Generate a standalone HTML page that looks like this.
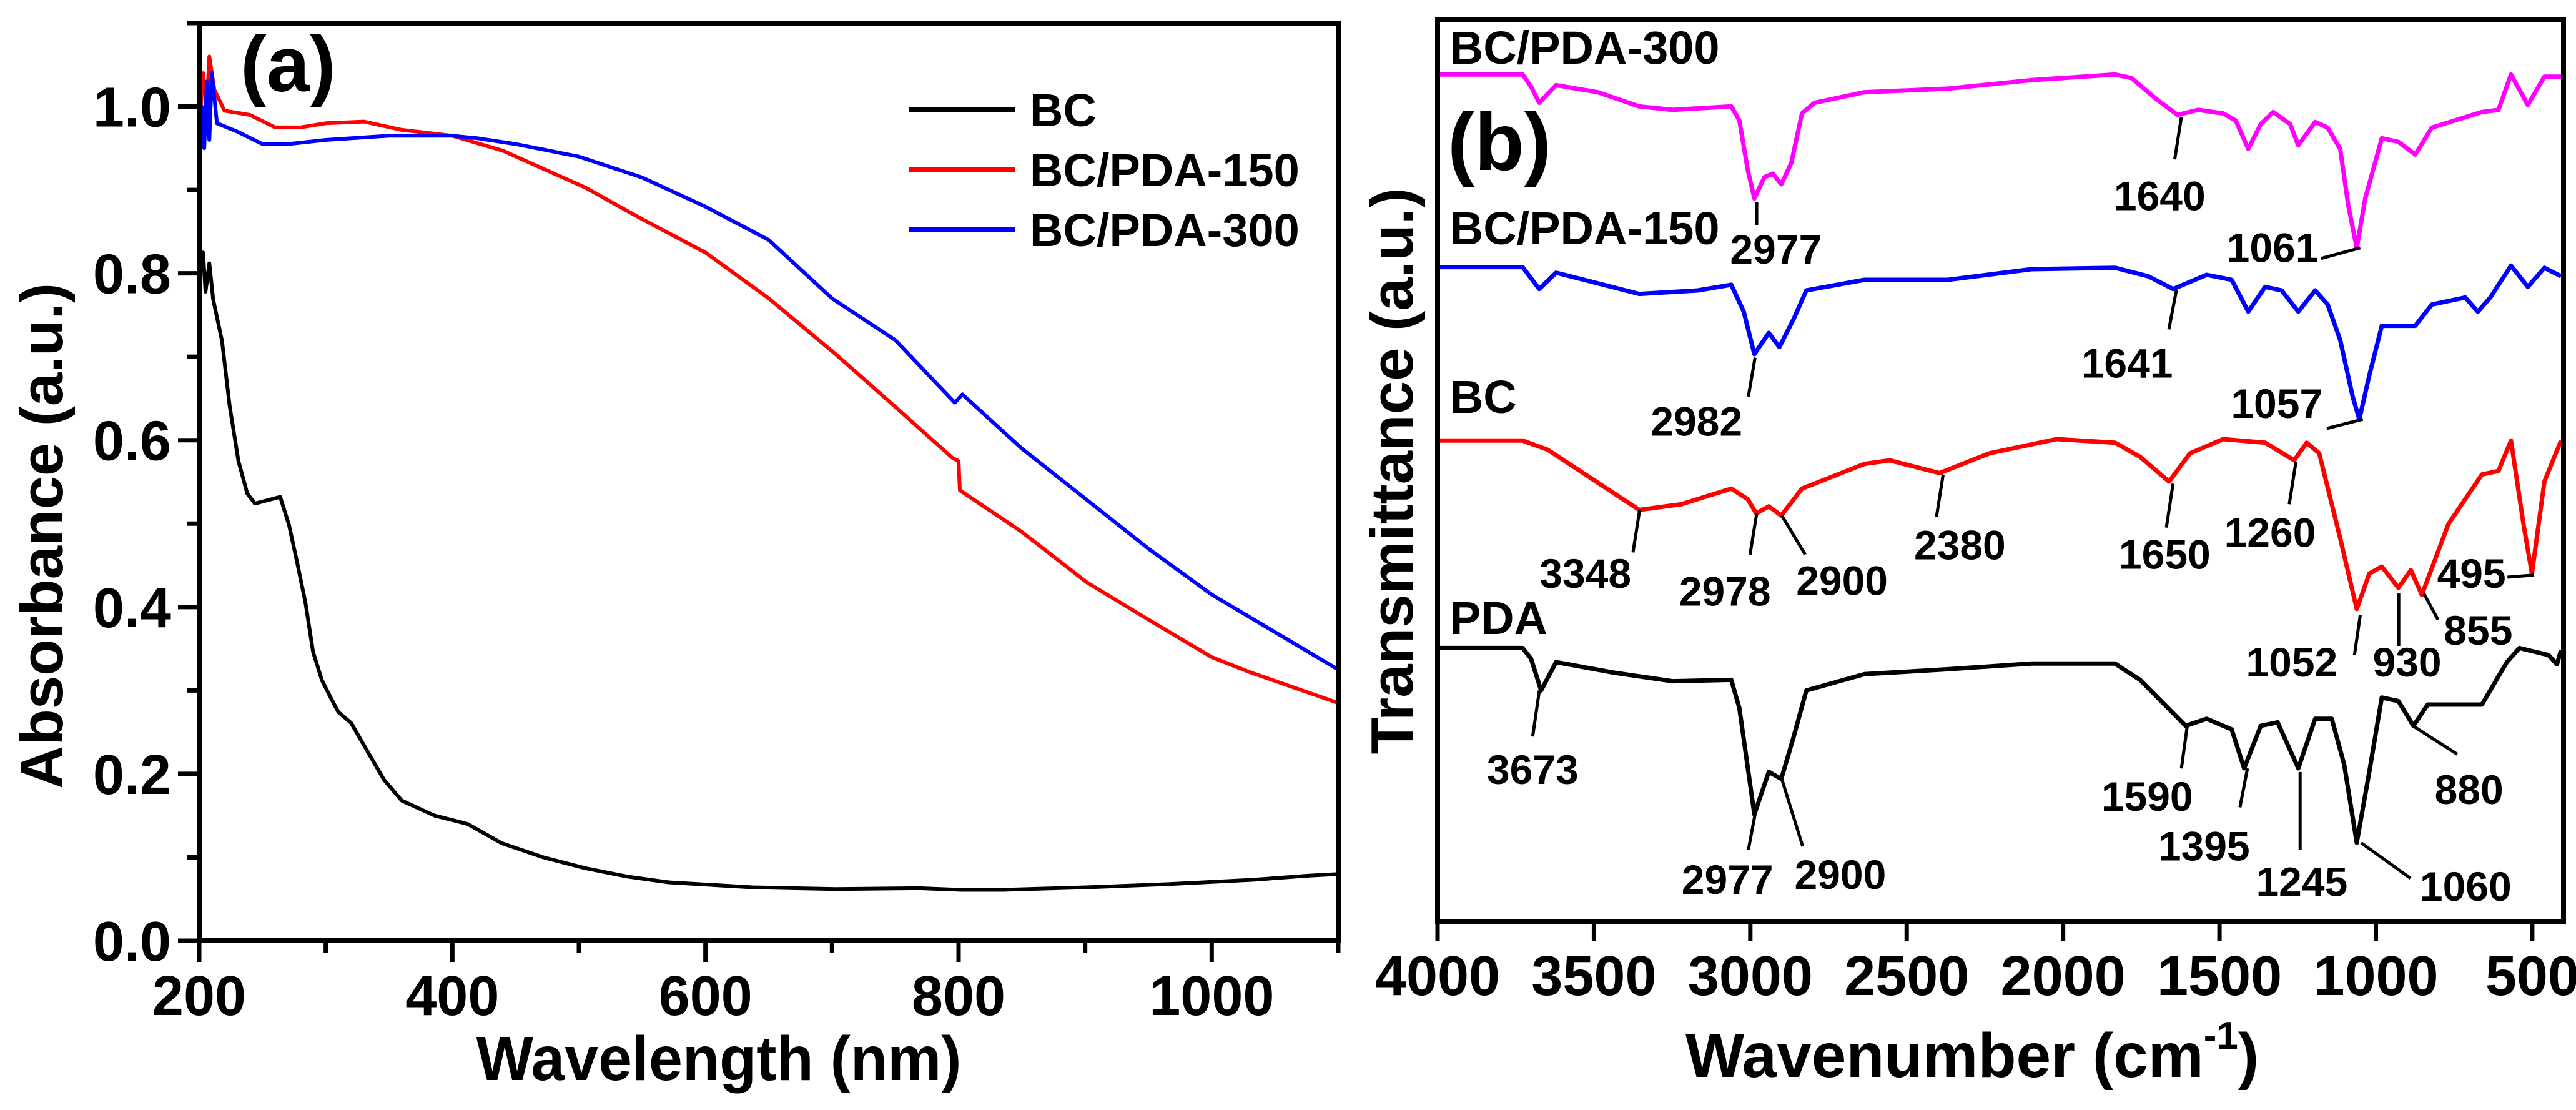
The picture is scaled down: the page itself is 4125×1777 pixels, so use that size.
<!DOCTYPE html>
<html><head><meta charset="utf-8"><style>
html,body{margin:0;padding:0;background:#fff;}
svg{display:block;font-family:"Liberation Sans",Arial,sans-serif;font-weight:bold;}
</style></head><body>
<svg id="c" width="4125" height="1777" viewBox="0 0 4125 1777" xmlns="http://www.w3.org/2000/svg"></svg>
<script>
// ---------- Panel (a) data ----------
const bcWl=[200,203,205,208,211,218,224,231,238,244,254,264,271,277,284,290,297,304,310,320,333,346,360,373,386,412,439,472,505,538,571,637,703,769,802,835,901,967,1032,1077,1100];
const bcAbs=[0.795,0.825,0.778,0.812,0.769,0.719,0.642,0.575,0.536,0.524,0.528,0.532,0.498,0.456,0.405,0.346,0.312,0.291,0.274,0.261,0.227,0.193,0.168,0.159,0.150,0.140,0.117,0.100,0.087,0.077,0.070,0.064,0.062,0.063,0.061,0.061,0.064,0.068,0.073,0.078,0.080];
const p150Wl=[200,203,206,208,212,220,240,260,280,300,330,360,400,440,505,550,600,650,703,750,795,800,801,850,901,950,1000,1030,1100];
const p150Abs=[0.97,1.04,1.0,1.06,1.02,0.995,0.99,0.975,0.975,0.98,0.982,0.972,0.965,0.947,0.903,0.865,0.825,0.77,0.703,0.64,0.579,0.575,0.54,0.49,0.43,0.385,0.34,0.322,0.285];
const p300Wl=[200,202,204,206,208,210,214,230,250,270,300,350,400,420,450,500,550,600,650,700,750,797,803,850,900,950,1000,1050,1100];
const p300Abs=[0.94,1.0,0.95,1.03,0.96,1.04,0.98,0.97,0.955,0.955,0.96,0.965,0.965,0.962,0.955,0.94,0.915,0.88,0.84,0.77,0.72,0.645,0.655,0.59,0.53,0.47,0.415,0.37,0.325];
const aXTicks=[200,400,600,800,1000];
const aYTicks=[0.0,0.2,0.4,0.6,0.8,1.0];
const aYTickLabels=["0.0","0.2","0.4","0.6","0.8","1.0"];
// ---------- Panel (b) data ----------
const wnP300=[4000,3728,3701,3675,3621,3488,3355,3248,3061,3035,3008,2987,2955,2928,2901,2869,2835,2795,2635,2368,2101,1834,1781,1701,1634,1568,1488,1448,1408,1368,1328,1274,1248,1194,1154,1114,1088,1061,1034,981,928,874,821,661,608,568,514,461,408];
const tP300=[119.7,119.7,118,115.7,118.2,117.2,115.2,114.7,115.2,113.2,106.2,102.2,105.2,105.7,104.2,107.2,114.2,115.7,117.2,117.7,118.9,119.7,119.2,116.2,114.0,114.7,114.2,113.2,109.2,112.7,114.4,112.7,109.7,113.0,112.2,109.2,101.2,95.2,102.2,110.7,110.2,108.4,112.2,114.4,114.7,119.7,115.4,119.4,119.4];
const wnP150=[4000,3728,3675,3621,3355,3168,3061,3021,2987,2941,2907,2861,2821,2635,2368,2101,1834,1728,1648,1541,1461,1408,1354,1301,1248,1194,1154,1114,1074,1053,1021,981,928,874,821,714,674,634,568,514,461,408];
const tP150=[92.5,92.5,89.4,91.7,88.7,89.2,90,86.2,80.2,83.2,81.2,85.2,89.2,90.7,90.7,92.2,92.4,91.2,89.4,91.4,90.7,86.2,89.7,89.2,86.2,89.2,87.2,82.2,74.2,71,77.2,84.2,84.2,84.2,87.2,88.2,86.2,88.2,92.7,89.7,92.4,91.2];
const wnBC=[4000,3728,3648,3355,3221,3061,3008,2981,2941,2901,2835,2635,2554,2395,2235,2021,1834,1754,1661,1594,1488,1354,1261,1221,1181,1114,1061,1021,981,928,888,853,768,661,608,568,528,501,461,408];
const tBC=[68,68,66.7,58.2,59,61.2,59.7,57.7,58.7,57.4,61.2,64.7,65.2,63.4,66.2,68.2,67.7,65.7,62.2,66.2,68.2,67.7,65.2,67.7,66.2,54.2,44.2,49.2,50.2,47.2,49.7,46.2,56.2,63.2,63.7,68,56.2,49.2,62.2,68];
const wnPDA=[4000,3728,3701,3669,3621,3435,3248,3061,3035,2987,2941,2901,2861,2821,2635,2368,2101,1834,1754,1608,1541,1461,1421,1368,1314,1248,1194,1141,1101,1061,1021,981,928,880,834,661,581,541,448,421,408];
const tPDA=[38.7,38.7,37.2,32.7,36.7,35.2,34,34.2,30.2,15.2,21.2,20.2,26.2,32.7,35,35.7,36.5,36.5,34.2,27.7,28.7,27.2,21.7,27.7,28.2,21.7,28.7,28.7,22.2,11.2,21.2,31.7,31.2,27.7,30.7,30.7,36.7,38.7,37.7,36.4,38.4];
const bXTicks=[4000,3500,3000,2500,2000,1500,1000,500];

const NS="http://www.w3.org/2000/svg";
const svg=document.getElementById('c');
function mk(tag,attrs,parent){const e=document.createElementNS(NS,tag);for(const k in attrs)e.setAttribute(k,attrs[k]);(parent||svg).appendChild(e);return e;}

// ---------- Panel (a) ----------
const aL=319,aR=2143,aT=37,aB=1506;
const ax=v=>aL+(v-200)/900*(aR-aL);
const ay=v=>aB-v/1.1*(aB-aT);
const ga=mk('g',{});


function series(g,xs,ys,fx,fy,color,w,name){
  const d=xs.map((x,i)=>(i?'L':'M')+fx(x).toFixed(1)+' '+fy(ys[i]).toFixed(1)).join(' ');
  const p=mk('path',{d:d,fill:'none',stroke:color,'stroke-width':w,'stroke-linejoin':'round'},g);
  
  
}
series(ga,bcWl,bcAbs,ax,ay,'#000',6,'bc-line');
series(ga,p150Wl,p150Abs,ax,ay,'#ff0000',6,'bc-pda-150-line');
series(ga,p300Wl,p300Abs,ax,ay,'#0000ff',6,'bc-pda-300-line');
const fa=mk('rect',{x:aL,y:aT,width:aR-aL,height:aB-aT,fill:'none',stroke:'#000','stroke-width':8},ga);


for(let v=200;v<=1100;v+=100){
  const major=aXTicks.includes(v);
  mk('line',{x1:ax(v),x2:ax(v),y1:aB,y2:aB+(major?34:20),stroke:'#000','stroke-width':7},ga);
}
aXTicks.forEach(v=>{
  const t=mk('text',{x:ax(v),y:1625,'text-anchor':'middle','font-size':90},ga);
  t.textContent=v;
  
  
});
for(let i=0;i<=11;i++){
  const v=i/10;const major=i%2===0;
  mk('line',{x1:aL,x2:aL-(major?34:20),y1:ay(v),y2:ay(v),stroke:'#000','stroke-width':7},ga);
}
aYTicks.forEach((v,i)=>{
  const t=mk('text',{x:274,y:ay(v)+32,'text-anchor':'end','font-size':90},ga);
  t.textContent=aYTickLabels[i];
  
  
});
let t=mk('text',{x:1151,y:1729,'text-anchor':'middle','font-size':100,textLength:777,lengthAdjust:'spacingAndGlyphs'},ga);
t.textContent='Wavelength (nm)';


t=mk('text',{x:0,y:0,'text-anchor':'middle','font-size':96,textLength:810,lengthAdjust:'spacingAndGlyphs',transform:'translate(100,858) rotate(-90)'},ga);
t.textContent='Absorbance (a.u.)';


t=mk('text',{x:385,y:146,'font-size':125},ga);
t.textContent='(a)';


const legNames=['BC','BC/PDA-150','BC/PDA-300'];
const legColors=['#000','#ff0000','#0000ff'];
const legY=[176,272,368];
legNames.forEach((n,i)=>{
  const g=mk('g',{},ga);
  
  
  mk('line',{x1:1456,x2:1626,y1:legY[i],y2:legY[i],stroke:legColors[i],'stroke-width':8},g);
  const tt=mk('text',{x:1649,y:legY[i]+26,'font-size':74},g);
  tt.textContent=n;
});

// ---------- Panel (b) ----------
const bL=2302,bR=4105,bT=32,bB=1476;
const bx=v=>bL+(4000-v)/3600*(bR-bL);
const by=v=>bB-v*(bB-bT)/127.4;
const gb=mk('g',{});


series(gb,wnP300,tP300,bx,by,'#ff00ff',7,'bc-pda-300-spectrum');
series(gb,wnP150,tP150,bx,by,'#0000ff',7,'bc-pda-150-spectrum');
series(gb,wnBC,tBC,bx,by,'#ff0000',7,'bc-spectrum');
series(gb,wnPDA,tPDA,bx,by,'#000',7,'pda-spectrum');
const fb=mk('rect',{x:bL,y:bT,width:bR-bL,height:bB-bT,fill:'none',stroke:'#000','stroke-width':8},gb);


bXTicks.forEach(v=>{
  mk('line',{x1:bx(v),x2:bx(v),y1:bB,y2:bB+30,stroke:'#000','stroke-width':7},gb);
  const tt=mk('text',{x:bx(v),y:1593,'text-anchor':'middle','font-size':90},gb);
  tt.textContent=v;
  
  
});
t=mk('text',{x:3158,y:1724,'text-anchor':'middle','font-size':100},gb);
t.innerHTML='Wavenumber (cm<tspan dy="-45" font-size="62">-1</tspan><tspan dy="45">)</tspan>';


t=mk('text',{x:0,y:0,'text-anchor':'middle','font-size':96,textLength:907,lengthAdjust:'spacingAndGlyphs',transform:'translate(2262,754) rotate(-90)'},gb);
t.textContent='Transmittance (a.u.)';


t=mk('text',{x:2318,y:272,'font-size':130},gb);
t.textContent='(b)';


const Z=(px,py)=>[2050+px*1.3387,py*1.1338];
const sLabels=[['BC/PDA-300',203,90],['BC/PDA-150',203,345],['BC',203,583],['PDA',203,895]];
sLabels.forEach(s=>{
  const p=Z(s[1],s[2]);
  const tt=mk('text',{x:p[0],y:p[1],'font-size':74},gb);
  tt.textContent=s[0];
  
  
});
const ann=[
['2977',593,372,570,285,570,318],['1640',1052,297,1078,165,1070,225],['1061',1187,370,1292,350,1245,365],
['2982',498,615,568,505,560,560],['1641',1013,533,1072,410,1063,465],['1057',1192,590,1295,592,1252,605],
['3348',365,830,430,720,422,780],['2978',532,855,570,725,562,783],['2900',672,840,600,728,628,783],
['2380',813,790,793,670,785,730],['1650',1058,803,1068,683,1060,745],['1260',1184,772,1215,652,1207,712],
['495',1425,830,1500,812,1468,815],['1052',1210,955,1292,868,1285,925],['930',1348,955,1338,838,1338,912],
['855',1433,910,1368,838,1385,875],
['3673',302,1107,310,975,302,1040],['2977',535,1262,568,1150,560,1200],['2900',670,1255,600,1100,625,1195],
['1590',1037,1145,1085,1025,1078,1085],['1395',1105,1215,1157,1085,1148,1140],['1245',1222,1265,1220,1090,1220,1200],
['1060',1418,1272,1293,1190,1352,1240],['880',1422,1135,1355,1025,1408,1065]];
ann.forEach(a=>{
  const g=mk('g',{},gb);
  
  
  const p=Z(a[1],a[2]),q1=Z(a[3],a[4]),q2=Z(a[5],a[6]);
  mk('line',{x1:q1[0],y1:q1[1],x2:q2[0],y2:q2[1],stroke:'#000','stroke-width':5},g);
  const tt=mk('text',{x:p[0],y:p[1],'text-anchor':'middle','font-size':66},g);
  tt.textContent=a[0];
});
</script>
</body></html>
